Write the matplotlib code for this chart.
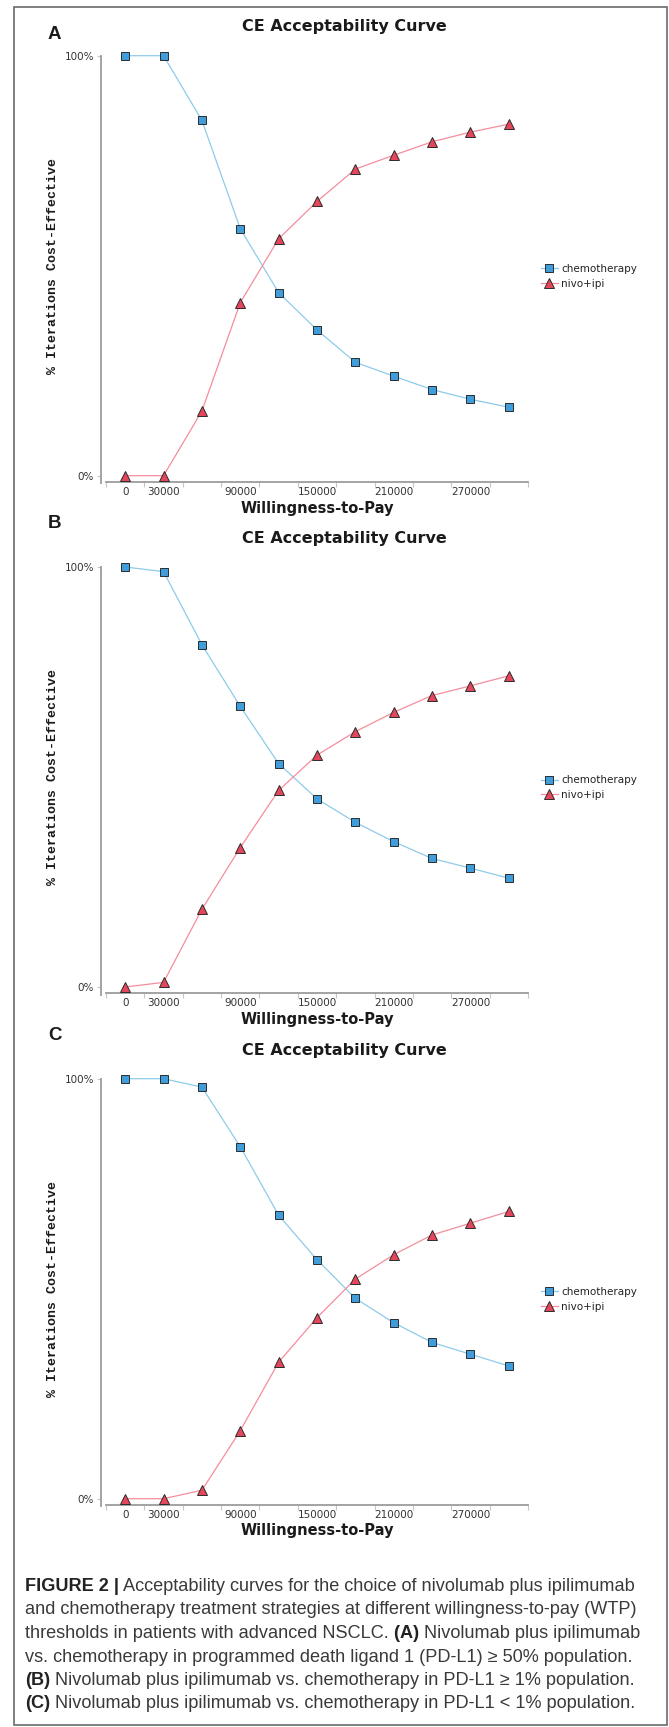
import numpy as np
import matplotlib
matplotlib.use("Agg")
import matplotlib.pyplot as plt
from matplotlib.patches import Rectangle

############################################
# DATA
############################################
wtp = [0, 30000, 60000, 90000, 120000, 150000, 180000, 210000, 240000, 270000, 300000]
shown_wtp = [0, 30000, 90000, 150000, 210000, 270000]

chemo_a = [100, 100, 84.6, 58.8, 43.6, 34.7, 27.0, 23.7, 20.5, 18.2, 16.3]
nivo_a = [0, 0, 15.4, 41.2, 56.4, 65.3, 73.0, 76.3, 79.5, 81.8, 83.7]

chemo_b = [100, 98.9, 81.5, 66.8, 53.2, 44.8, 39.2, 34.6, 30.6, 28.3, 25.9]
nivo_b = [0, 1.1, 18.5, 33.2, 46.8, 55.2, 60.8, 65.4, 69.4, 71.7, 74.1]

chemo_c = [100, 100, 98.0, 83.8, 67.5, 56.9, 47.7, 41.9, 37.2, 34.4, 31.6]
nivo_c = [0, 0, 2.0, 16.2, 32.5, 43.1, 52.3, 58.1, 62.8, 65.6, 68.4]

series_names = ["chemotherapy", "nivo+ipi"]
panel_letters = ["A", "B", "C"]

caption = [
    [("FIGURE 2 |", True), (" Acceptability curves for the choice of nivolumab plus ipilimumab", False)],
    [("and chemotherapy treatment strategies at different willingness-to-pay (WTP)", False)],
    [("thresholds in patients with advanced NSCLC.", False), (" (A)", True), (" Nivolumab plus ipilimumab", False)],
    [("vs. chemotherapy in programmed death ligand 1 (PD-L1) \u2265 50% population.", False)],
    [("(B)", True), (" Nivolumab plus ipilimumab vs. chemotherapy in PD-L1 \u2265 1% population.", False)],
    [("(C)", True), (" Nivolumab plus ipilimumab vs. chemotherapy in PD-L1 < 1% population.", False)],
]

############################################
# STYLE
############################################
W, H = 669, 1727
BLUE = "#3f9ddb"
BLUE_LINE = "#8ecbea"
RED = "#e5465c"
RED_LINE = "#f58d9d"
EDGE = "#2b2b2b"
AXIS = "#9c9c9c"
TICK = "#c6c6c6"
TXT = "#333333"
CAP_FONT = ["Liberation Sans Narrow", "Liberation Sans", "DejaVu Sans"]

plt.rcParams["font.family"] = ["DejaVu Sans"]

fig = plt.figure(figsize=(W / 100, H / 100), dpi=100)


def fx(x):
    return x / W


def fy(y):
    return 1 - y / H


############################################
# PANELS
############################################
DY = [0, 511.3, 1023]
TITLE_Y = [27, 538, 1050]
LETTER_BASE = [39.3, 528, 1040]
x = np.arange(len(wtp))
label_pos = [wtp.index(v) for v in shown_wtp]
label_txt = [str(v) for v in shown_wtp]

for i, (letter, chemo, nivo) in enumerate(zip(panel_letters, [chemo_a, chemo_b, chemo_c],
                                              [nivo_a, nivo_b, nivo_c])):
    dy = DY[i]
    ax = fig.add_axes([fx(106), fy(475.7 + dy), (528 - 106) / W, 420 / H])
    ax.plot(x, np.array(chemo) / 100, color=BLUE_LINE, lw=0.9, marker="s", ms=6,
            mfc=BLUE, mec=EDGE, mew=0.7, clip_on=False, zorder=3, label=series_names[0])
    ax.plot(x, np.array(nivo) / 100, color=RED_LINE, lw=0.9, marker="^", ms=6.5,
            mfc=RED, mec=EDGE, mew=0.7, clip_on=False, zorder=3, label=series_names[1])
    ax.set_xlim(-0.5, len(wtp) - 0.5)
    ax.set_ylim(0, 1)

    for s in ["top", "right"]:
        ax.spines[s].set_visible(False)
    ax.spines["left"].set_position(("outward", 3.6))
    ax.spines["left"].set_bounds(-0.018, 1)
    ax.spines["bottom"].set_position(("outward", 4.3))
    for s in ["left", "bottom"]:
        ax.spines[s].set_color(AXIS)
        ax.spines[s].set_linewidth(1.3)

    ax.set_yticks([0, 1], ["0%", "100%"])
    ax.tick_params(axis="y", length=3, width=0.8, color=TICK, pad=2,
                   labelsize=7.5, labelcolor=TXT)
    major = np.arange(-0.5, len(wtp))
    ax.set_xticks(major, [""] * len(major))
    ax.set_xticks(label_pos, label_txt, minor=True)
    ax.tick_params(axis="x", which="major", length=3.6, width=0.8, color=TICK)
    ax.tick_params(axis="x", which="minor", length=0, pad=3.8,
                   labelsize=7.5, labelcolor=TXT)

    ax.legend(loc="upper left", bbox_to_anchor=(fx(541), fy(264 + dy)),
              bbox_transform=fig.transFigure, frameon=False, fontsize=7.5,
              handlelength=1.6, handletextpad=0.35, borderpad=0,
              borderaxespad=0, labelspacing=0.45, labelcolor="#222222")

    fig.text(fx(344), fy(TITLE_Y[i]), "CE Acceptability Curve",
             ha="center", va="center", fontsize=11.5, weight="bold", color="#1a1a1a")
    fig.text(fx(48), fy(LETTER_BASE[i]), letter, ha="left", va="baseline", fontsize=13.5,
             weight="bold", family=["Liberation Sans", "DejaVu Sans"], color="#1a1a1a")
    fig.text(fx(53), fy(265.7 + dy), "% Iterations Cost-Effective", rotation=90,
             ha="center", va="center", fontsize=9.5, weight="bold",
             family=["Liberation Mono", "DejaVu Sans Mono"], color="#1a1a1a")
    fig.text(fx(317), fy(508 + dy), "Willingness-to-Pay", ha="center", va="center",
             fontsize=10.5, weight="bold", color="#1a1a1a")

############################################
# CAPTION
############################################
r = fig.canvas.get_renderer()


def draw_line(x0, y, parts, size, keep=True):
    xx = x0
    made = []
    for txt, bold in parts:
        t = fig.text(fx(xx), fy(y), txt, fontsize=size, family=CAP_FONT,
                     weight="bold" if bold else "normal",
                     color="#222222" if bold else "#3a3a3a", va="baseline", ha="left")
        xx += t.get_window_extent(renderer=r).width
        made.append(t)
    if not keep:
        for t in made:
            t.remove()
    return xx - x0


w10 = draw_line(25, 1600, caption[0], 10, keep=False)
cap_size = 10 * 612 / w10
for i, parts in enumerate(caption):
    draw_line(25, 1591 + 23.5 * i, parts, cap_size)

fig.patches.append(Rectangle((fx(14), fy(1725)), (667 - 14) / W, (1725 - 7) / H,
                             transform=fig.transFigure, fill=False, ec="#6b6b6b", lw=1.2))

fig.savefig("out.png", dpi=100)
